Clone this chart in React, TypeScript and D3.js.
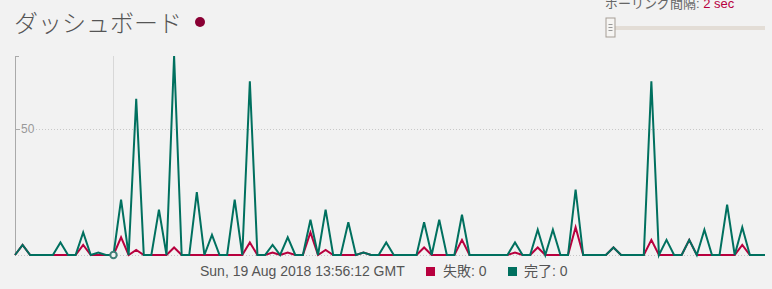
import React from "react";
import * as d3 from "d3";

const completed: number[] = [
  0, 4, 0, 0, 0, 0, 5, 0, 0, 9,
  0, 1, 0, 0, 22, 0, 62, 0, 0, 18,
  0, 79, 0, 0, 25, 0, 8, 0, 0, 22,
  0, 69, 0, 0, 4, 0, 7, 0, 0, 14,
  0, 18, 0, 0, 13, 0, 1, 0, 0, 5,
  0, 0, 0, 0, 13, 0, 14, 0, 0, 16,
  0, 0, 0, 0, 0, 0, 5, 0, 0, 10,
  0, 10, 0, 0, 26, 0, 0, 0, 0, 3,
  0, 0, 0, 0, 69, 0, 6, 0, 0, 6,
  0, 10, 0, 0, 20, 0, 11, 0, 0, 0,
];

const failed: number[] = [
  0, 4, 0, 0, 0, 0, 0, 0, 0, 4,
  0, 0, 0, 0, 7, 0, 2, 0, 0, 0,
  0, 3, 0, 0, 0, 0, 0, 0, 0, 0,
  0, 5, 0, 0, 1, 0, 1, 0, 0, 9,
  0, 2, 0, 0, 0, 0, 1, 0, 0, 0,
  0, 0, 0, 0, 3, 0, 0, 0, 0, 6,
  0, 0, 0, 0, 0, 0, 1, 0, 0, 3,
  0, 0, 0, 0, 11, 0, 0, 0, 0, 3,
  0, 0, 0, 0, 6, 0, 0, 0, 0, 6,
  0, 0, 0, 0, 0, 0, 4, 0, 0, 0,
];

const yTicks: number[] = [0, 50];
const hoverIndex = 13;
const hoverLabel = "Sun, 19 Aug 2018 13:56:12 GMT";
const title = "ダッシュボード";
const pollingLabel = "ポーリング間隔: ";
const pollingValue = "2 sec";
const legendFailed = "失敗: 0";
const legendCompleted = "完了: 0";

const W = 772;
const H = 289;
const RED = "#b8003e";
const TEAL = "#00705f";

export default function App() {
  const x = d3.scaleLinear().domain([0, completed.length - 1]).range([15, 765]);
  const yMax = d3.max([...completed, ...failed]) as number;
  const y = d3.scaleLinear().domain([0, yMax]).range([255, 56]);
  const line = d3
    .line<number>()
    .x((_, i) => x(i))
    .y((d) => y(d));

  const font = "'Liberation Sans', Arial, 'Noto Sans CJK JP', sans-serif";

  return (
    <svg
      width={W}
      height={H}
      style={{ position: "absolute", left: 0, top: 0, display: "block" }}
      fontFamily={font}
    >
      <rect x={0} y={0} width={W} height={H} fill="#f2f2f2" />

      {/* title */}
      <text
        x={14}
        y={32}
        fontSize={24}
        fill="#555"
        fontWeight={300}
        fontFamily="'Noto Sans CJK JP', sans-serif"
      >
        {title}
      </text>
      <circle cx={200} cy={22} r={5} fill="#8a0034" />

      {/* polling control */}
      <text x={605} y={8} fontSize={13} fill="#666">
        {pollingLabel}
        <tspan fill={RED}>{pollingValue}</tspan>
      </text>
      <rect x={615} y={26} width={150} height={4} fill="#e3ddd6" />
      <rect
        x={606}
        y={18}
        width={9}
        height={19}
        fill="#f6f5f3"
        stroke="#a59d95"
        strokeWidth={1}
      />
      {[24.5, 27.5, 30.5].map((yy) => (
        <line key={yy} x1={608.5} x2={612.5} y1={yy} y2={yy} stroke="#999" strokeWidth={1} />
      ))}

      {/* grid */}
      {yTicks.map((t) => (
        <line
          key={"g" + t}
          x1={t === 0 ? 15 : 36}
          x2={765}
          y1={Math.round(y(t)) + 0.5}
          y2={Math.round(y(t)) + 0.5}
          stroke="#c8c8c8"
          strokeDasharray="1,2"
        />
      ))}

      {/* y axis */}
      <line x1={15.5} x2={15.5} y1={56} y2={255} stroke="#aaa" />
      <line x1={15} x2={19} y1={56.5} y2={56.5} stroke="#aaa" />
      {yTicks
        .filter((t) => t > 0)
        .map((t) => (
          <g key={"t" + t}>
            <line x1={15} x2={20} y1={Math.round(y(t)) + 0.5} y2={Math.round(y(t)) + 0.5} stroke="#aaa" />
            <text x={21} y={y(t) + 4} fontSize={12} fill="#999">
              {t}
            </text>
          </g>
        ))}

      {/* hover line */}
      <line
        x1={Math.round(x(hoverIndex)) + 0.5}
        x2={Math.round(x(hoverIndex)) + 0.5}
        y1={56}
        y2={255}
        stroke="#d8d8d8"
      />

      {/* series */}
      <path d={line(failed) || ""} fill="none" stroke={RED} strokeWidth={2} />
      <path d={line(completed) || ""} fill="none" stroke={TEAL} strokeWidth={2} />

      {/* hover markers */}
      <circle cx={x(hoverIndex)} cy={y(completed[hoverIndex])} r={3.2} fill="#f2f2f2" stroke="#3f7f78" strokeWidth={2} />

      {/* legend */}
      <text x={200} y={276} fontSize={14} fill="#555">
        {hoverLabel}
      </text>
      <rect x={426} y={267} width={9} height={9} fill={RED} />
      <text x={443} y={276} fontSize={14} fill="#555">
        {legendFailed}
      </text>
      <rect x={508} y={267} width={9} height={9} fill={TEAL} />
      <text x={524} y={276} fontSize={14} fill="#555">
        {legendCompleted}
      </text>
    </svg>
  );
}
